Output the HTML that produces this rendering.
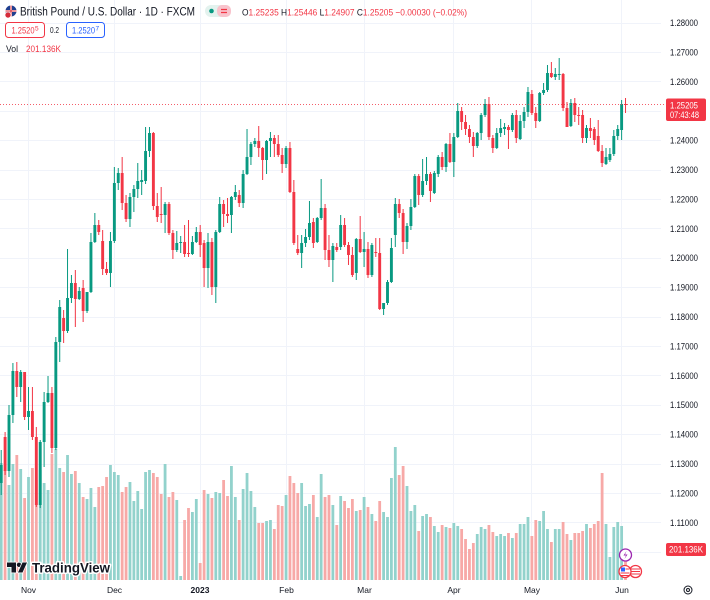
<!DOCTYPE html>
<html>
<head>
<meta charset="utf-8">
<style>
html,body{margin:0;padding:0;background:#fff;}
body{width:710px;height:600px;overflow:hidden;}
svg{display:block;font-family:"Liberation Sans",sans-serif;}
</style>
</head>
<body>
<svg id="chart" width="710" height="600" viewBox="0 0 710 600" xmlns="http://www.w3.org/2000/svg">
  <rect x="0" y="0" width="710" height="600" fill="#ffffff"/>
  <!-- grid -->
  <g stroke="#f0f3fa" stroke-width="1">
    <line x1="0" x2="661" y1="23.5" y2="23.5"/>
    <line x1="0" x2="661" y1="52.5" y2="52.5"/>
    <line x1="0" x2="661" y1="81.5" y2="81.5"/>
    <line x1="0" x2="661" y1="111.5" y2="111.5"/>
    <line x1="0" x2="661" y1="140.5" y2="140.5"/>
    <line x1="0" x2="661" y1="170.5" y2="170.5"/>
    <line x1="0" x2="661" y1="199.5" y2="199.5"/>
    <line x1="0" x2="661" y1="228.5" y2="228.5"/>
    <line x1="0" x2="661" y1="258.5" y2="258.5"/>
    <line x1="0" x2="661" y1="287.5" y2="287.5"/>
    <line x1="0" x2="661" y1="317.5" y2="317.5"/>
    <line x1="0" x2="661" y1="346.5" y2="346.5"/>
    <line x1="0" x2="661" y1="375.5" y2="375.5"/>
    <line x1="0" x2="661" y1="405.5" y2="405.5"/>
    <line x1="0" x2="661" y1="434.5" y2="434.5"/>
    <line x1="0" x2="661" y1="464.5" y2="464.5"/>
    <line x1="0" x2="661" y1="493.5" y2="493.5"/>
    <line x1="0" x2="661" y1="522.5" y2="522.5"/>
    <line x1="0" x2="661" y1="552.5" y2="552.5"/>
    <line x1="28.5" x2="28.5" y1="0" y2="580"/>
    <line x1="114.5" x2="114.5" y1="0" y2="580"/>
    <line x1="200.5" x2="200.5" y1="0" y2="580"/>
    <line x1="286.5" x2="286.5" y1="0" y2="580"/>
    <line x1="364.5" x2="364.5" y1="0" y2="580"/>
    <line x1="453.5" x2="453.5" y1="0" y2="580"/>
    <line x1="531.5" x2="531.5" y1="0" y2="580"/>
    <line x1="621.5" x2="621.5" y1="0" y2="580"/>
  </g>

  <g id="vol"></g>
  <g id="candles"></g>

  <!-- current price line -->
  <line x1="0" x2="666" y1="104.5" y2="104.5" stroke="#f23645" stroke-width="1" stroke-dasharray="1 2" opacity="0.8"/>

  <!-- price axis -->
  <g font-size="9" fill="#131722">
    <text x="670" y="26" textLength="28" lengthAdjust="spacingAndGlyphs">1.28000</text>
    <text x="670" y="55.4" textLength="28" lengthAdjust="spacingAndGlyphs">1.27000</text>
    <text x="670" y="84.8" textLength="28" lengthAdjust="spacingAndGlyphs">1.26000</text>
    <text x="670" y="143.6" textLength="28" lengthAdjust="spacingAndGlyphs">1.24000</text>
    <text x="670" y="173" textLength="28" lengthAdjust="spacingAndGlyphs">1.23000</text>
    <text x="670" y="202.4" textLength="28" lengthAdjust="spacingAndGlyphs">1.22000</text>
    <text x="670" y="231.8" textLength="28" lengthAdjust="spacingAndGlyphs">1.21000</text>
    <text x="670" y="261.2" textLength="28" lengthAdjust="spacingAndGlyphs">1.20000</text>
    <text x="670" y="290.6" textLength="28" lengthAdjust="spacingAndGlyphs">1.19000</text>
    <text x="670" y="320" textLength="28" lengthAdjust="spacingAndGlyphs">1.18000</text>
    <text x="670" y="349.4" textLength="28" lengthAdjust="spacingAndGlyphs">1.17000</text>
    <text x="670" y="378.8" textLength="28" lengthAdjust="spacingAndGlyphs">1.16000</text>
    <text x="670" y="408.2" textLength="28" lengthAdjust="spacingAndGlyphs">1.15000</text>
    <text x="670" y="437.6" textLength="28" lengthAdjust="spacingAndGlyphs">1.14000</text>
    <text x="670" y="467" textLength="28" lengthAdjust="spacingAndGlyphs">1.13000</text>
    <text x="670" y="496.4" textLength="28" lengthAdjust="spacingAndGlyphs">1.12000</text>
    <text x="670" y="525.8" textLength="28" lengthAdjust="spacingAndGlyphs">1.11000</text>
  </g>

  <!-- last price label -->
  <rect x="666" y="98.5" width="40" height="22.5" rx="2" fill="#f23645"/>
  <text x="670" y="108.5" font-size="9" fill="#ffffff" textLength="28" lengthAdjust="spacingAndGlyphs">1.25205</text>
  <text x="670" y="118" font-size="9" fill="#ffffff" textLength="29" lengthAdjust="spacingAndGlyphs">07:43:48</text>

  <!-- volume label -->
  <rect x="666" y="543" width="40" height="13" rx="2" fill="#f23645"/>
  <text x="669" y="552.5" font-size="9" fill="#ffffff" textLength="34" lengthAdjust="spacingAndGlyphs">201.136K</text>

  <!-- time axis -->
  <g font-size="8.5" fill="#131722" text-anchor="middle">
    <text x="28.5" y="593">Nov</text>
    <text x="114.5" y="593">Dec</text>
    <text x="200" y="593" font-weight="bold">2023</text>
    <text x="286.5" y="593">Feb</text>
    <text x="364.5" y="593">Mar</text>
    <text x="454" y="593">Apr</text>
    <text x="532" y="593">May</text>
    <text x="622" y="593">Jun</text>
  </g>
  <!-- settings icon -->
  <circle cx="688" cy="590" r="4" fill="none" stroke="#131722" stroke-width="1"/>
  <circle cx="688" cy="590" r="1.5" fill="none" stroke="#131722" stroke-width="1"/>

  <!-- header -->
  <g>
    <circle cx="11" cy="11" r="5.5" fill="#1f3f8f"/>
    <path d="M5.5 11 H16.5 M11 5.5 V16.5" stroke="#ffffff" stroke-width="2"/>
    <path d="M5.5 11 H16.5 M11 5.5 V16.5" stroke="#d52b3a" stroke-width="1"/>
    <circle cx="8" cy="15" r="3" fill="#d52b3a" stroke="#fff" stroke-width="0.6"/>
    <text x="20" y="15.3" font-size="11.5" fill="#131722" textLength="175" lengthAdjust="spacingAndGlyphs">British Pound / U.S. Dollar · 1D · FXCM</text>
    <rect x="205" y="5" width="26" height="12" rx="6" fill="#e3f2ee"/>
    <circle cx="211.5" cy="11" r="2.3" fill="#089981"/>
    <rect x="217" y="5" width="14" height="12" rx="5" fill="#f8c3cc"/>
    <path d="M221 9.5 H227 M221 12.5 H227" stroke="#f23645" stroke-width="1.2"/>
    <text x="242" y="15.5" font-size="9.5" textLength="225" lengthAdjust="spacingAndGlyphs"><tspan fill="#131722">O</tspan><tspan fill="#f23645">1.25235 </tspan><tspan fill="#131722">H</tspan><tspan fill="#f23645">1.25446 </tspan><tspan fill="#131722">L</tspan><tspan fill="#f23645">1.24907 </tspan><tspan fill="#131722">C</tspan><tspan fill="#f23645">1.25205 −0.00030 (−0.02%)</tspan></text>

    <rect x="5.5" y="22.5" width="39" height="15" rx="3" fill="#ffffff" stroke="#f23645" stroke-width="1"/>
    <text x="11.5" y="33.3" font-size="9" fill="#f23645" textLength="23" lengthAdjust="spacingAndGlyphs">1.2520</text>
    <text x="35" y="30.5" font-size="6.5" fill="#f23645">5</text>
    <text x="50" y="33" font-size="8.5" fill="#131722" textLength="9" lengthAdjust="spacingAndGlyphs">0.2</text>
    <rect x="66.5" y="22.5" width="38" height="15" rx="3" fill="#ffffff" stroke="#2962ff" stroke-width="1"/>
    <text x="72" y="33.3" font-size="9" fill="#2962ff" textLength="23" lengthAdjust="spacingAndGlyphs">1.2520</text>
    <text x="95.5" y="30.5" font-size="6.5" fill="#2962ff">7</text>

    <text x="6" y="52" font-size="9" fill="#131722" textLength="12" lengthAdjust="spacingAndGlyphs">Vol</text>
    <text x="26" y="52" font-size="9" fill="#f23645" textLength="35" lengthAdjust="spacingAndGlyphs">201.136K</text>
  </g>

  <!-- TradingView logo -->
  <g>
    <path d="M7 562.5 H16 V572.5 H11.5 V567 H7 Z" fill="#131722" stroke="#fff" stroke-width="1.5" paint-order="stroke"/>
    <circle cx="19" cy="564.8" r="2.2" fill="#131722" stroke="#fff" stroke-width="1.2" paint-order="stroke"/>
    <path d="M22.5 562.5 H27 L22.5 572.5 H18 Z" fill="#131722" stroke="#fff" stroke-width="1.5" paint-order="stroke"/>
    <text x="32" y="572.5" font-size="14" font-weight="bold" fill="#131722" stroke="#ffffff" stroke-width="3" paint-order="stroke" stroke-linejoin="round" textLength="78" lengthAdjust="spacingAndGlyphs">TradingView</text>
  </g>

  <!-- event icons -->
  <circle cx="625.5" cy="555" r="6" fill="#ffffff" stroke="#9c27b0" stroke-width="1.3"/>
  <path d="M626.5 551 L623.5 555.5 H626 L624.5 559 L627.5 554.5 H625 Z" fill="#9c27b0"/>
  <circle cx="635.5" cy="571.5" r="6" fill="#ffffff" stroke="#f23645" stroke-width="1.3"/>
  <path d="M631 569 H640 M631 571.5 H640 M631 574 H640" stroke="#f23645" stroke-width="1"/>
  <circle cx="625" cy="571.5" r="6" fill="#ffffff" stroke="#f23645" stroke-width="1.3"/>
  <rect x="621" y="567.5" width="4" height="4" fill="#2962ff"/>
  <path d="M620.5 573 H629.5 M620.5 575.5 H629.5 M625.5 569 H629.5" stroke="#f23645" stroke-width="1"/>
</svg>
<script>
(function(){
var C=[
[483,465,450,495],[437,471,432,475],[471,415,405,477],[415,371,363,423],[371,387,362,397],[387,372,370,402],[372,417,372,420],[417,411,387,430],[411,437,387,440],[437,505,427,507],
[505,442,440,508],[442,402,392,467],[402,393,376,403],[393,448,387,453],[448,342,337,450],[342,307,300,362],[318,331,310,343],[331,298,249,333],[298,283,275,303],[283,299,270,327],
[299,291,287,300],[288,311,280,322],[311,292,292,313],[292,242,233,293],[242,225,213,243],[225,232,220,235],[241,269,230,275],[269,273,262,275],[273,241,232,287],[241,183,167,243],
[183,173,168,190],[173,203,157,210],[203,219,195,222],[219,197,193,227],[197,189,185,212],[189,181,163,198],[182,180,170,195],[181,151,127,184],[151,133,127,157],[133,206,132,210],
[206,217,193,222],[214,215,187,223],[215,204,202,233],[204,233,202,235],[233,250,230,259],[250,243,231,252],[243,242,236,253],[242,254,225,257],[253,254,220,257],[254,242,236,255],
[242,232,227,243],[232,245,225,257],[243,268,240,287],[268,242,233,288],[242,287,238,295],[287,232,230,303],[232,204,197,233],[204,214,200,227],[214,216,198,223],[215,197,196,233],
[197,192,185,200],[195,203,190,207],[203,174,170,208],[174,157,129,175],[157,144,142,165],[144,141,138,147],[141,148,126,157],[148,160,147,180],[160,141,140,174],[141,138,132,157],
[138,144,135,157],[144,155,135,157],[155,164,148,173],[164,148,146,168],[148,192,142,193],[192,243,180,245],[249,253,235,255],[253,243,235,268],[243,237,229,247],[237,223,201,240],
[222,243,218,248],[242,218,217,243],[218,208,179,220],[208,250,204,260],[250,260,235,267],[260,246,243,282],[247,250,243,252],[247,225,215,250],[225,245,218,247],[245,255,242,265],
[255,275,247,277],[273,239,238,280],[239,252,216,253],[252,249,232,267],[249,275,242,278],[275,245,243,277],[252,253,238,257],[253,309,238,310],[309,303,303,315],[303,282,280,305],
[282,248,238,283],[235,204,198,247],[204,213,199,218],[213,242,209,254],[242,226,223,249],[226,207,199,230],[207,176,174,208],[176,195,174,205],[195,181,159,197],[181,174,157,185],
[174,191,172,202],[193,173,171,194],[174,157,155,177],[157,167,152,170],[167,144,143,172],[144,162,133,163],[162,137,133,177],[137,111,103,138],[111,122,107,130],[122,129,115,135],
[129,137,125,143],[137,146,132,157],[146,133,132,148],[133,115,113,140],[115,104,99,117],[104,137,97,140],[138,148,135,153],[148,133,128,149],[133,128,119,137],[129,127,123,135],
[127,130,125,149],[130,115,113,132],[115,138,110,143],[139,121,115,140],[121,112,107,128],[112,92,87,117],[94,113,90,115],[113,121,107,128],[121,93,92,122],[93,90,83,95],
[90,73,65,92],[73,77,62,78],[77,74,68,80],[75,74,58,80],[74,108,73,111],[108,127,102,127],[126,103,99,127],[103,115,98,122],[115,116,107,125],[115,138,110,143],
[138,128,125,143],[128,131,118,138],[129,140,127,145],[136,151,120,152],[151,163,145,167],[164,157,148,165],[160,154,148,162],[154,136,130,156],[136,129,125,140],[130,104,100,140],
[104,105,98,113]
];
var V=[
463,470,485,464,455,469,498,477,468,480,
470,483,490,454,449,468,472,455,474,471,
483,497,499,488,507,487,486,477,465,472,
475,492,487,482,501,491,509,472,470,473,
477,494,464,497,492,500,576,520,508,512,
499,563,490,494,498,492,493,480,496,466,
497,520,489,473,491,507,523,523,521,520,
529,505,506,495,476,483,493,483,506,504,
495,517,474,497,495,505,525,496,501,508,
499,511,510,497,507,514,521,501,512,517,
478,447,475,466,486,511,505,531,516,514,
517,526,532,525,527,528,523,526,529,539,
549,543,534,527,529,525,532,536,534,536,
533,538,533,524,524,517,536,520,521,511,
529,542,529,529,522,534,540,533,533,531,
524,528,524,521,473,524,557,527,522,526,
549
];
var ns="http://www.w3.org/2000/svg";
var vg=document.getElementById("vol"), cg=document.getElementById("candles");
function r(g,x,y,w,h,f){var e=document.createElementNS(ns,"rect");e.setAttribute("x",x.toFixed(2));e.setAttribute("y",y.toFixed(2));e.setAttribute("width",w);e.setAttribute("height",Math.max(h,1).toFixed(2));e.setAttribute("fill",f);g.appendChild(e);}
for(var i=0;i<C.length;i++){
  var d=C[i],o=d[0],c=d[1],h=d[2],l=d[3];
  var cx=1.2+i*3.902;
  var up=c<=o && !(c===o);
  if(o===c) up=false;
  var col=up?"#089981":"#f23645";
  var vcol=up?"#92d2cc":"#f7a9a7";
  var vt=V[i]; if(vt!==undefined) r(vg,cx-1.4,vt,2.8,580-vt,vcol);
  var top=Math.min(o,c),bot=Math.max(o,c);
  h=Math.min(h,top); l=Math.max(l,bot);
  r(cg,cx-0.5,h,1,l-h,col);
  r(cg,cx-1.45,top,2.9,bot-top,col);
}
})();
</script>
</body>
</html>
